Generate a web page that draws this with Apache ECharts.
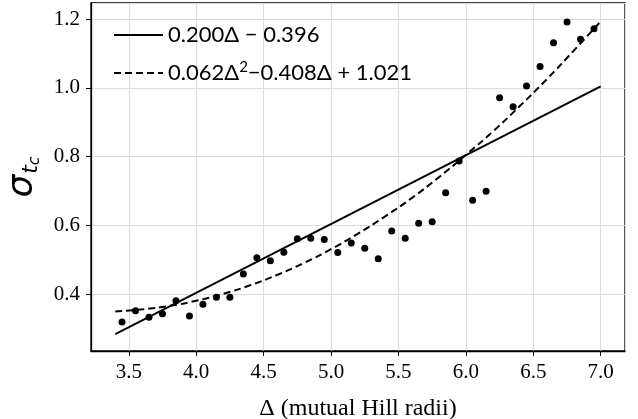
<!DOCTYPE html>
<html>
<head>
<meta charset="utf-8">
<script src="https://cdn.jsdelivr.net/npm/echarts@6/dist/echarts.min.js"></script>
<style>
  html, body { margin: 0; padding: 0; background: #fff; }
  #main { width: 638px; height: 419px; }
</style>
</head>
<body>
<div id="main"></div>
<script>
// measured points (delta, sigma_tc)
const deltaVals = [3.45, 3.55, 3.65, 3.75, 3.85, 3.95, 4.05, 4.15, 4.25, 4.35, 4.45, 4.55,
  4.65, 4.75, 4.85, 4.95, 5.05, 5.15, 5.25, 5.35, 5.45, 5.55, 5.65, 5.75, 5.85, 5.95,
  6.05, 6.15, 6.25, 6.35, 6.45, 6.55, 6.65, 6.75, 6.85, 6.95];
const sigmaVals = [0.319, 0.352, 0.333, 0.343, 0.381, 0.337, 0.371, 0.391, 0.391, 0.459, 0.506, 0.497,
  0.522, 0.561, 0.563, 0.559, 0.521, 0.549, 0.534, 0.503, 0.584, 0.563, 0.606, 0.611, 0.695, 0.787,
  0.673, 0.699, 0.971, 0.945, 1.005, 1.062, 1.131, 1.191, 1.141, 1.172];

// linear fit, read at the two ends
const linX = [3.4, 7.0];
const linY = [0.284, 1.004];

// quadratic fit
const quadX = [3.4, 3.6, 3.8, 4.0, 4.2, 4.4, 4.6, 4.8, 5.0, 5.2, 5.4, 5.6, 5.8, 6.0, 6.2, 6.4, 6.6, 6.8, 7.0];
const quadY = [0.350, 0.356, 0.366, 0.381, 0.401, 0.426, 0.456, 0.491, 0.531, 0.576, 0.626, 0.680,
  0.740, 0.805, 0.873, 0.947, 1.025, 1.108, 1.193];

const zip = (a, b) => a.map((v, i) => [v, b[i]]);

const chart = echarts.init(document.getElementById('main'));

const serif = 'Liberation Serif';

const option = {
  animation: false,
  backgroundColor: '#fff',
  textStyle: { fontFamily: serif, color: '#000' },
  grid: {
    left: 91, right: 13, top: 3, bottom: 68,
    outerBoundsMode: 'none',
    containLabel: false,
    show: true, borderColor: '#000', borderWidth: 1.3, backgroundColor: 'transparent'
  },
  legend: {
    orient: 'vertical',
    left: 113, top: 22,
    padding: 0,
    itemWidth: 49, itemHeight: 14, itemGap: 12,
    data: ['linear', 'quadratic'],
    itemStyle: { opacity: 0 }, // line only, no marker
    textStyle: {
      fontFamily: 'Lato', fontSize: 22, color: '#000', lineHeight: 26,
      rich: {
        a: { fontFamily: 'Lato', fontSize: 22, color: '#000' },
        sup: { fontFamily: 'Lato', fontSize: 15, color: '#000', verticalAlign: 'top', padding: [0, 0, 10, 0] }
      }
    },
    formatter: function (name) {
      if (name === 'linear') return '{a|0.200Δ − 0.396}';
      return '{a|0.062Δ}{sup|2}{a|−0.408Δ + 1.021}';
    }
  },
  xAxis: {
    type: 'value',
    min: 3.22, max: 7.18,
    splitNumber: 8,
    name: 'Δ (mutual Hill radii)',
    nameLocation: 'middle',
    nameGap: 46,
    nameTextStyle: { fontFamily: serif, fontSize: 24, color: '#000' },
    axisLine: { show: true, onZero: false, lineStyle: { color: '#000', width: 1.3 } },
    axisTick: { show: true, length: 5, lineStyle: { color: '#000', width: 1 } },
    axisLabel: {
      margin: 11,
      fontFamily: serif, fontSize: 21, color: '#000',
      showMinLabel: false, showMaxLabel: false,
      formatter: v => v.toFixed(1)
    },
    splitLine: { show: true, lineStyle: { color: '#dcdcdc', width: 1 } }
  },
  yAxis: {
    type: 'value',
    min: 0.235, max: 1.2465,
    splitNumber: 5,
    name: '{s|σ}{t|t}{c|c}',
    nameLocation: 'middle',
    nameRotate: 90,
    nameGap: 34,
    nameTextStyle: {
      rich: {
        s: { fontFamily: 'DejaVu Sans', fontStyle: 'italic', fontSize: 36, color: '#000' },
        t: { fontFamily: 'DejaVu Sans', fontStyle: 'italic', fontSize: 22, color: '#000', padding: [16, 0, 0, 1] },
        c: { fontFamily: 'DejaVu Sans', fontStyle: 'italic', fontSize: 16, color: '#000', padding: [24, 0, 0, 0] }
      }
    },
    axisLine: { show: true, onZero: false, lineStyle: { color: '#000', width: 1.3 } },
    axisTick: { show: true, length: 5, lineStyle: { color: '#000', width: 1 } },
    axisLabel: {
      margin: 11,
      fontFamily: serif, fontSize: 21, color: '#000',
      showMinLabel: false, showMaxLabel: false,
      formatter: v => v.toFixed(1)
    },
    splitLine: { show: true, lineStyle: { color: '#dcdcdc', width: 1 } }
  },
  series: [
    {
      name: 'data',
      type: 'scatter',
      data: zip(deltaVals, sigmaVals),
      symbolSize: 7,
      itemStyle: { color: '#000', opacity: 1 },
      z: 3
    },
    {
      name: 'linear',
      type: 'line',
      data: zip(linX, linY),
      showSymbol: false,
      symbol: 'none',
      lineStyle: { color: '#000', width: 2 },
      itemStyle: { color: '#000' }
    },
    {
      name: 'quadratic',
      type: 'line',
      data: zip(quadX, quadY),
      smooth: true,
      showSymbol: false,
      symbol: 'none',
      lineStyle: { color: '#000', width: 2, type: [7, 4] },
      itemStyle: { color: '#000' }
    }
  ]
};

chart.setOption(option);
</script>
</body>
</html>
